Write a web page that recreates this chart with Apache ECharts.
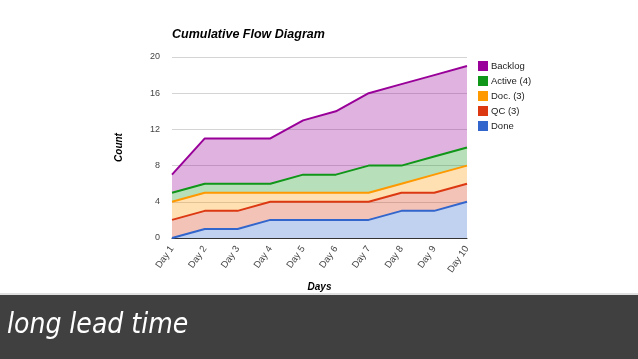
<!DOCTYPE html>
<html><head><meta charset="utf-8">
<script src="https://cdn.jsdelivr.net/npm/echarts@6/dist/echarts.min.js"></script>
<style>html,body{margin:0;padding:0;background:#fff}#c{width:638px;height:359px}</style>
</head><body><div id="c"></div>
<script>
const categories = ['Day 1','Day 2','Day 3','Day 4','Day 5','Day 6','Day 7','Day 8','Day 9','Day 10'];
const done    = [0,1,1,2,2,2,2,3,3,4];
const qc      = [2,2,2,2,2,2,2,2,2,2];
const doc     = [2,2,2,1,1,1,1,1,2,2];
const active  = [1,1,1,1,2,2,3,2,2,2];
const backlog = [2,5,5,5,6,7,8,9,9,9];
const yTicks  = [0,4,8,12,16,20];
const legendOrder = ['Backlog','Active (4)','Doc. (3)','QC (3)','Done'];

const chart = echarts.init(document.getElementById('c'), null, {renderer:'canvas'});
function s(name, data, color){
  return {name, type:'line', stack:'total', data, symbol:'none', smooth:false,
    lineStyle:{width:2, color}, itemStyle:{color},
    areaStyle:{color, opacity:0.3}, emphasis:{disabled:true}};
}
chart.setOption({
  animation:false,
  title:{text:'Cumulative Flow Diagram', left:167, top:23,
    textStyle:{fontFamily:'Liberation Sans, Arial', fontSize:12.5, fontWeight:'bold', fontStyle:'italic', color:'#000'}},
  legend:{orient:'vertical', left:473, top:56, icon:'rect', itemWidth:10, itemHeight:10, itemGap:5,
    data:legendOrder, textStyle:{fontFamily:'Liberation Sans, Arial', fontSize:9.5, color:'#222', padding:[0,0,0,-2]}},
  grid:{left:172, right:171, top:57, bottom:121, containLabel:false},
  xAxis:{type:'category', data:categories, boundaryGap:false,
    name:'Days', nameLocation:'middle', nameGap:44,
    nameTextStyle:{fontFamily:'Liberation Sans, Arial', fontSize:10, fontWeight:'bold', fontStyle:'italic', color:'#000'},
    axisLine:{lineStyle:{color:'#333', width:1}}, axisTick:{show:false},
    axisLabel:{rotate:55, fontFamily:'Liberation Sans, Arial', fontSize:9.5, color:'#444', margin:9},
    splitLine:{show:false}},
  yAxis:{type:'value', min:yTicks[0], max:yTicks[yTicks.length-1], interval:yTicks[1]-yTicks[0],
    name:'Count', nameLocation:'middle', nameGap:48, nameRotate:90,
    nameTextStyle:{fontFamily:'Liberation Sans, Arial', fontSize:10, fontWeight:'bold', fontStyle:'italic', color:'#000'},
    axisLine:{show:false}, axisTick:{show:false},
    axisLabel:{fontFamily:'Liberation Sans, Arial', fontSize:9, color:'#444', margin:12},
    splitLine:{lineStyle:{color:'#d4d4d4', width:1}}},
  series:[
    s('Done', done, '#3366cc'),
    s('QC (3)', qc, '#dc3912'),
    s('Doc. (3)', doc, '#ff9900'),
    s('Active (4)', active, '#109618'),
    s('Backlog', backlog, '#990099')
  ],
  graphic:[
    {type:'rect', shape:{x:0, y:293, width:638, height:2}, style:{fill:'#e0e0e0'}, silent:true},
    {type:'rect', shape:{x:0, y:295, width:638, height:64}, style:{fill:'#404040'}, silent:true},
    {type:'text', left:7, top:312, style:{text:'long lead time', fill:'#ffffff',
      font:'italic 28px "DejaVu Sans Condensed", "DejaVu Sans", sans-serif'}, silent:true}
  ]
});
</script></body></html>
